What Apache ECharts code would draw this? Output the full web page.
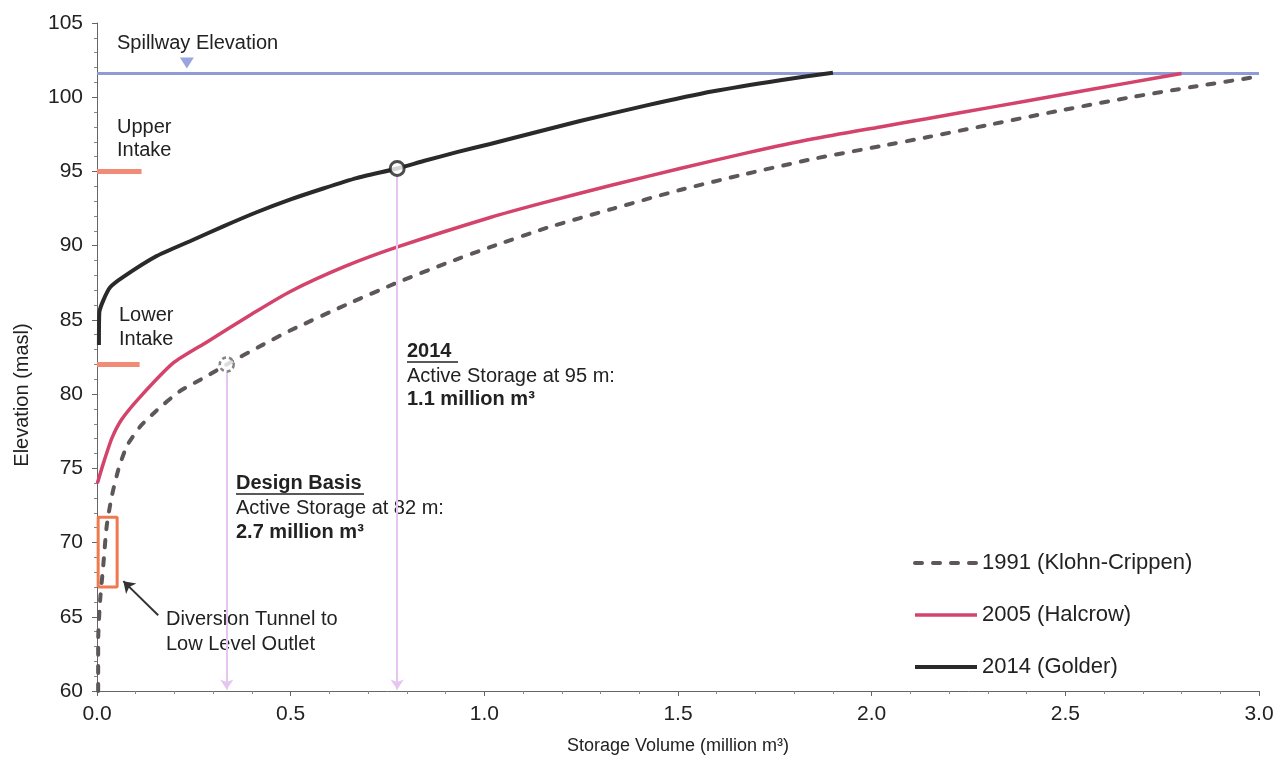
<!DOCTYPE html>
<html>
<head>
<meta charset="utf-8">
<title>Storage Volume vs Elevation</title>
<script src="https://cdn.jsdelivr.net/npm/echarts@6/dist/echarts.min.js"></script>
<style>
  html, body { margin: 0; padding: 0; background: #fff; }
  #chart { width: 1288px; height: 760px; }
</style>
</head>
<body>
<div id="chart"></div>
<script>
// storage curves: [volume (million m3), elevation (masl)]
const klohn1991 = [
  [0.003, 60.0], [0.003, 63.4], [0.008, 66.1], [0.016, 68.4], [0.025, 71.1],
  [0.038, 73.1], [0.055, 74.9], [0.077, 76.5], [0.111, 77.8], [0.154, 78.9],
  [0.214, 80.2], [0.283, 81.2], [0.335, 82.0], [0.43, 83.35], [0.5, 84.3],
  [0.65, 86.1], [0.774, 87.5], [0.9, 88.8], [1.015, 89.9], [1.161, 91.2],
  [1.333, 92.5], [1.505, 93.75], [1.678, 94.85], [1.85, 95.85], [2.022, 96.7],
  [2.142, 97.3], [2.314, 98.2], [2.486, 99.1], [2.659, 99.95], [2.83, 100.7],
  [3.0, 101.4]
];
const halcrow2005 = [
  [0.001, 74.0], [0.016, 75.3], [0.038, 77.0], [0.064, 78.3], [0.111, 79.8],
  [0.197, 82.1], [0.283, 83.5], [0.40, 85.4], [0.498, 86.9], [0.64, 88.6],
  [0.774, 89.9], [1.015, 91.9], [1.161, 92.95], [1.333, 94.1], [1.505, 95.2],
  [1.678, 96.25], [1.85, 97.2], [2.022, 98.0], [2.142, 98.55], [2.314, 99.35],
  [2.486, 100.15], [2.659, 100.95], [2.8, 101.6]
];
const golder2014 = [
  [0.005, 83.3], [0.006, 85.5], [0.016, 86.3], [0.034, 87.2], [0.068, 87.9],
  [0.154, 89.3], [0.24, 90.3], [0.326, 91.3], [0.412, 92.25], [0.498, 93.1],
  [0.584, 93.85], [0.67, 94.55], [0.775, 95.2], [0.843, 95.7], [0.929, 96.3],
  [1.015, 96.85], [1.075, 97.25], [1.247, 98.4], [1.419, 99.45], [1.591, 100.4],
  [1.764, 101.15], [1.9, 101.65]
];

const spillwayElev = 101.6;
const upperIntake = [[0, 95], [0.115, 95]];
const lowerIntake = [[0, 82], [0.11, 82]];
const diversionBox = [[0.003, 67], [0.052, 67], [0.052, 71.7], [0.003, 71.7], [0.003, 67]];
const designPoint = [0.335, 82.0];
const point2014 = [0.775, 95.2];

const xTicks = { min: 0, max: 3, interval: 0.5 };
const yTicks = { min: 60, max: 105, interval: 5 };

const FONT = "'Liberation Sans', Arial, sans-serif";
const TXT = '#222';

const chart = echarts.init(document.getElementById('chart'));

function txt(x, y, text, bold) {
  return {
    type: 'text', x: x, y: y,
    style: {
      text: text, fill: TXT, font: (bold ? 'bold ' : '') + '20px ' + FONT,
      verticalAlign: 'middle', align: 'left'
    }
  };
}
function underline(x1, x2, y) {
  return { type: 'line', shape: { x1: x1, y1: y, x2: x2, y2: y }, style: { stroke: TXT, lineWidth: 1.5 } };
}

const option = {
  animation: false,
  grid: { left: 97, right: 29, top: 23, bottom: 69 },
  textStyle: { fontFamily: FONT },
  xAxis: {
    type: 'value', min: xTicks.min, max: xTicks.max, interval: xTicks.interval,
    name: 'Storage Volume (million m³)', nameLocation: 'middle', nameGap: 46,
    nameTextStyle: { fontSize: 18, color: TXT },
    axisLine: { lineStyle: { color: '#666', width: 1 } },
    axisTick: { show: true, length: 5, lineStyle: { color: '#666' } },
    minorTick: { show: true, splitNumber: 5, length: 3, lineStyle: { color: '#888' } },
    axisLabel: { fontSize: 21, color: TXT, margin: 13, formatter: v => v.toFixed(1) },
    splitLine: { show: false }
  },
  yAxis: {
    type: 'value', min: yTicks.min, max: yTicks.max, interval: yTicks.interval,
    axisLine: { show: true, lineStyle: { color: '#666', width: 1 } },
    axisTick: { show: true, length: 5, lineStyle: { color: '#666' } },
    minorTick: { show: true, splitNumber: 5, length: 3, lineStyle: { color: '#888' } },
    axisLabel: { fontSize: 21, color: TXT, margin: 14 },
    splitLine: { show: false }
  },
  legend: {
    orient: 'vertical', left: 913, top: 552, padding: 0,
    itemWidth: 62, itemHeight: 22, itemGap: 30,
    itemStyle: { opacity: 0 },
    lineStyle: { width: 'inherit', type: 'inherit' },
    textStyle: { fontSize: 22, color: TXT, fontFamily: FONT },
    data: ['1991 (Klohn-Crippen)', '2005 (Halcrow)', '2014 (Golder)']
  },
  series: [
    {
      name: 'Spillway', type: 'line', symbol: 'none', silent: true,
      data: [[xTicks.min, spillwayElev], [xTicks.max, spillwayElev]],
      lineStyle: { color: '#8e9bd8', width: 3 }, z: 1
    },
    {
      name: 'Upper Intake', type: 'line', symbol: 'none', data: upperIntake,
      lineStyle: { color: '#f28b76', width: 5 }
    },
    {
      name: 'Lower Intake', type: 'line', symbol: 'none', data: lowerIntake,
      lineStyle: { color: '#f28b76', width: 5 }
    },
    {
      name: 'Diversion', type: 'line', symbol: 'none', data: diversionBox,
      lineStyle: { color: '#f07a50', width: 3 },
      markLine: {
        silent: true, symbol: ['none', 'arrow'], symbolSize: 11, label: { show: false },
        lineStyle: { color: '#333', width: 2, type: 'solid' },
        data: [[{ coord: [0.158, 65.1] }, { coord: [0.068, 67.4] }]]
      }
    },
    {
      name: '1991 (Klohn-Crippen)', type: 'line', symbol: 'none', smooth: 0.2,
      data: klohn1991, color: '#5d5757',
      lineStyle: { color: '#5d5757', width: 4, type: [7, 11], cap: 'round' }, z: 3,
      markLine: {
        silent: true, symbol: ['none', 'arrow'], symbolSize: 10, label: { show: false },
        lineStyle: { color: '#e4c6ee', width: 2, type: 'solid' },
        data: [
          [{ coord: [designPoint[0], designPoint[1] - 0.5] }, { coord: [designPoint[0], 60.1] }],
          [{ coord: [point2014[0], point2014[1] - 0.5] }, { coord: [point2014[0], 60.1] }]
        ]
      }
    },
    {
      name: '2005 (Halcrow)', type: 'line', symbol: 'none', smooth: 0.2,
      data: halcrow2005, color: '#d4436b',
      lineStyle: { color: '#d4436b', width: 3.5 }, z: 3
    },
    {
      name: '2014 (Golder)', type: 'line', symbol: 'none', smooth: 0.2,
      data: golder2014, color: '#2a2a2a',
      lineStyle: { color: '#2a2a2a', width: 4 }, z: 4
    },
    {
      type: 'scatter', symbol: 'circle', symbolSize: 14, data: [point2014], z: 6,
      itemStyle: { color: '#fff', borderColor: '#222', borderWidth: 3 }
    },
    {
      type: 'scatter', symbol: 'circle', symbolSize: 14, data: [designPoint], z: 6,
      itemStyle: { color: '#fff', borderColor: '#666', borderWidth: 2.5, borderType: [4, 3] }
    },
    {
      type: 'scatter', symbol: 'triangle', symbolRotate: 180, symbolSize: [14, 11],
      data: [[0.232, 102.3]], z: 6, itemStyle: { color: '#8090d4' }
    }
  ],
  graphic: [
    {
      type: 'text', x: 22, y: 395, rotation: Math.PI / 2,
      style: { text: 'Elevation (masl)', fill: TXT, font: '20px ' + FONT, align: 'center', verticalAlign: 'middle' }
    },
    txt(117, 43, 'Spillway Elevation'),
    txt(117, 127, 'Upper'), txt(117, 150, 'Intake'),
    txt(119, 315, 'Lower'), txt(119, 339, 'Intake'),
    txt(166, 619, 'Diversion Tunnel to'), txt(166, 644, 'Low Level Outlet'),
    txt(236, 483, 'Design Basis', true), underline(236, 364, 494),
    txt(236, 508, 'Active Storage at 82 m:'),
    txt(236, 532, '2.7 million m³', true),
    txt(407, 351, '2014', true), underline(407, 458, 362),
    txt(407, 376, 'Active Storage at 95 m:'),
    txt(407, 399, '1.1 million m³', true)
  ]
};

chart.setOption(option);
</script>
</body>
</html>
